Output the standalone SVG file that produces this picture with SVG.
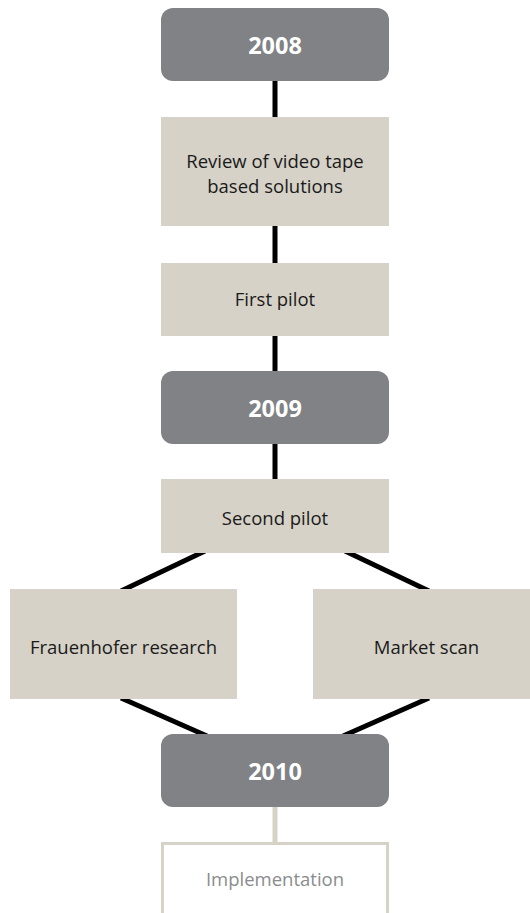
<svg xmlns="http://www.w3.org/2000/svg" width="530" height="913" viewBox="0 0 530 913">
<style>
.year{fill:#808285;}
.step{fill:#d6d2c7;}
.yt{font-family:"Open Sans","DejaVu Sans",sans-serif;font-weight:bold;font-size:23.5px;fill:#ffffff;text-anchor:middle;}
.st{font-family:"Open Sans","DejaVu Sans",sans-serif;font-size:18.5px;fill:#1a1a1a;text-anchor:middle;}
.link{stroke:#000000;stroke-width:5;fill:none;}
.light{stroke:#d6d2c7;stroke-width:5;fill:none;}
</style>
<rect width="530" height="913" fill="#ffffff"/>
<g id="connectors">
<line class="link" x1="275" y1="81" x2="275" y2="117"/>
<line class="link" x1="275" y1="226" x2="275" y2="263"/>
<line class="link" x1="275" y1="336" x2="275" y2="371"/>
<line class="link" x1="275" y1="444" x2="275" y2="479"/>
<line class="link" x1="205" y1="551" x2="121" y2="591"/>
<line class="link" x1="345" y1="551" x2="429" y2="591"/>
<line class="link" x1="121" y1="698" x2="207" y2="736"/>
<line class="link" x1="429" y1="698" x2="343" y2="736"/>
<line class="light" x1="275" y1="807" x2="275" y2="843"/>
</g>
<g id="y2008"><rect class="year" x="161" y="8" width="228" height="73" rx="12"/><text class="yt" x="275" y="54">2008</text></g>
<g id="review"><rect class="step" x="161" y="117" width="228" height="109"/><text class="st" x="275" y="168">Review of video tape</text><text class="st" x="275" y="193">based solutions</text></g>
<g id="first"><rect class="step" x="161" y="263" width="228" height="73"/><text class="st" x="275" y="306">First pilot</text></g>
<g id="y2009"><rect class="year" x="161" y="371" width="228" height="73" rx="12"/><text class="yt" x="275" y="417">2009</text></g>
<g id="second"><rect class="step" x="161" y="479" width="228" height="74"/><text class="st" x="275" y="525">Second pilot</text></g>
<g id="frauenhofer"><rect class="step" x="10" y="589" width="227" height="110"/><text class="st" x="123.5" y="654">Frauenhofer research</text></g>
<g id="market"><rect class="step" x="313" y="589" width="227" height="110"/><text class="st" x="426.5" y="654">Market scan</text></g>
<g id="y2010"><rect class="year" x="161" y="734" width="228" height="73" rx="12"/><text class="yt" x="275" y="780">2010</text></g>
<g id="implementation"><rect x="162.5" y="843.5" width="225" height="100" fill="#ffffff" stroke="#d6d2c7" stroke-width="3"/><text class="st" x="275" y="886" style="fill:#8a8c8e">Implementation</text></g>
</svg>
